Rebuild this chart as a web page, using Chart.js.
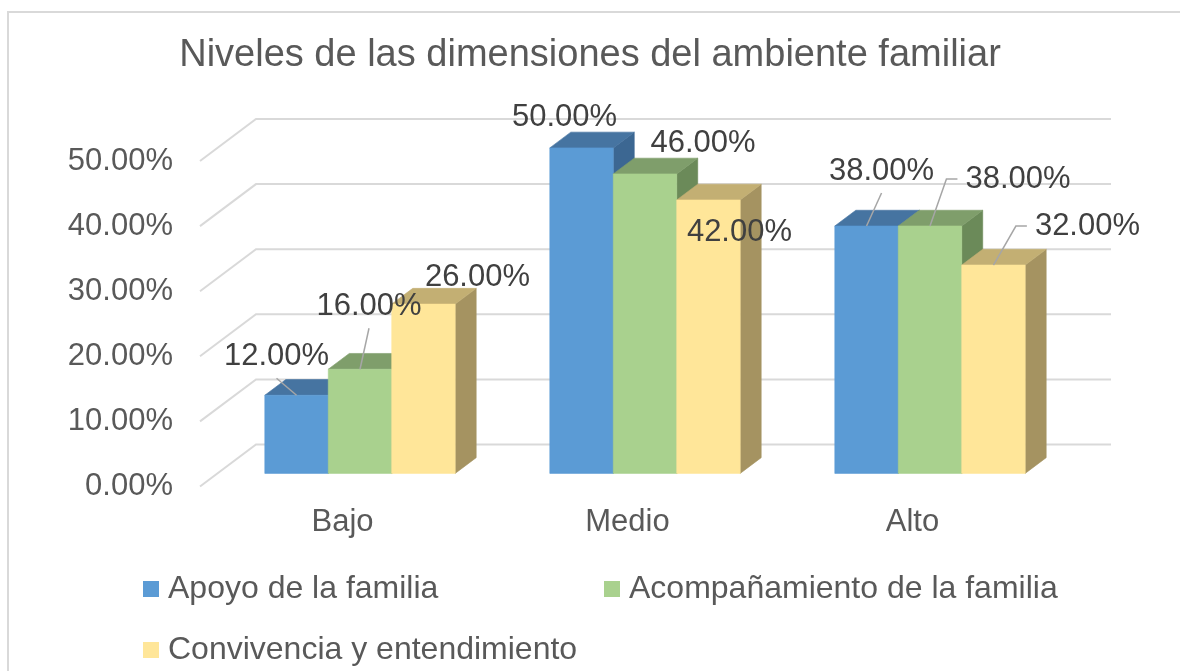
<!DOCTYPE html>
<html>
<head>
<meta charset="utf-8">
<title>Niveles de las dimensiones del ambiente familiar</title>
<script src="https://cdn.jsdelivr.net/npm/chart.js@4.4.1/dist/chart.umd.min.js"></script>
<style>
  html, body { margin: 0; padding: 0; background: #fff; }
  #wrap { position: relative; width: 1180px; height: 671px; }
</style>
</head>
<body>
<div id="wrap"><canvas id="chart"></canvas></div>
<script>
const categories = ["Bajo", "Medio", "Alto"];
const seriesNames = ["Apoyo de la familia", "Acompañamiento de la familia", "Convivencia y entendimiento"];
const apoyo = [12, 50, 38];
const acompanamiento = [16, 46, 38];
const convivencia = [26, 42, 32];
const yTicks = [0, 10, 20, 30, 40, 50];

// colores: cara frontal, superior y lateral de cada serie
const frontColors = ["#5B9BD5", "#A9D18E", "#FFE699"];
const topColors = ["#4674A1", "#7F9E6B", "#C3AF73"];
const sideColors = ["#3C6792", "#6B8A59", "#A59361"];

// desplazamiento de cada etiqueta respecto al borde superior de su barra
const labelOffsets = [
  [[-20, -39], [-17, -30], [15, -55]],
  [[9, -63], [58, -30], [88, -47]],
  [[54, -27], [31, 32], [94, -39]]
];
const leaderStyles = [
  ["below", null, "below"],
  ["below", null, "left"],
  [null, null, "left"]
];

const FONT = "'Liberation Sans', Arial, sans-serif";
const TEXT = "#595959";
const DEPTH = { x: 56, y: -42 };   // profundidad de las paredes
const BAR_FRONT = 0.3125;           // donde empieza la barra dentro de la profundidad
const BAR_DEPTH = 0.375;            // grosor de la barra

function poly(ctx, color, pts) {
  ctx.beginPath();
  ctx.moveTo(pts[0][0], pts[0][1]);
  for (let k = 1; k < pts.length; k++) ctx.lineTo(pts[k][0], pts[k][1]);
  ctx.closePath();
  ctx.fillStyle = color;
  ctx.fill();
  ctx.strokeStyle = color;
  ctx.lineWidth = 0.6;
  ctx.stroke();
}

// ===== barras 3D, paredes, etiquetas y leyenda =====
const excel3d = {
  id: "excel3d",
  beforeDraw(chart) {
    const ctx = chart.ctx;
    ctx.save();
    ctx.fillStyle = "#fff";
    ctx.fillRect(0, 0, chart.width, chart.height);
    ctx.strokeStyle = "#d9d9d9";
    ctx.lineWidth = 2;
    ctx.beginPath();
    ctx.moveTo(8, chart.height);
    ctx.lineTo(8, 12);
    ctx.lineTo(chart.width, 12);
    ctx.stroke();
    ctx.restore();
  },
  beforeDatasetsDraw(chart) {
    const ctx = chart.ctx;
    const area = chart.chartArea;
    const yScale = chart.scales.y;
    ctx.save();

    ctx.strokeStyle = "#d9d9d9";
    ctx.lineWidth = 2;
    yTicks.forEach(v => {
      const y = yScale.getPixelForValue(v);
      ctx.beginPath();
      ctx.moveTo(area.left, y);
      ctx.lineTo(area.left + DEPTH.x, y + DEPTH.y);
      ctx.lineTo(area.right + DEPTH.x, y + DEPTH.y);
      ctx.stroke();
    });

    const ox = DEPTH.x * BAR_FRONT, oy = DEPTH.y * BAR_FRONT;
    const bx = DEPTH.x * BAR_DEPTH, by = DEPTH.y * BAR_DEPTH;
    categories.forEach((c, i) => {
      chart.data.datasets.forEach((ds, d) => {
        const bar = chart.getDatasetMeta(d).data[i];
        const x0 = bar.x - bar.width / 2 + ox;
        const x1 = bar.x + bar.width / 2 + ox;
        const yt = bar.y + oy, yb = bar.base + oy;
        poly(ctx, sideColors[d], [[x1, yt], [x1 + bx, yt + by], [x1 + bx, yb + by], [x1, yb]]);
        poly(ctx, topColors[d], [[x0, yt], [x1, yt], [x1 + bx, yt + by], [x0 + bx, yt + by]]);
        poly(ctx, frontColors[d], [[x0, yt], [x1, yt], [x1, yb], [x0, yb]]);
      });
    });
    ctx.restore();
    return false;
  },
  afterDraw(chart) {
    const ctx = chart.ctx;
    const ox = DEPTH.x * BAR_FRONT, oy = DEPTH.y * BAR_FRONT;
    ctx.save();

    // etiquetas de datos
    ctx.font = "31px " + FONT;
    ctx.textAlign = "center";
    ctx.textBaseline = "middle";
    chart.data.datasets.forEach((ds, d) => {
      const meta = chart.getDatasetMeta(d);
      ds.data.forEach((v, i) => {
        const bar = meta.data[i];
        const ax = bar.x + ox, ay = bar.y + oy;
        const tx = ax + labelOffsets[d][i][0];
        const ty = ay + labelOffsets[d][i][1];
        const txt = v.toFixed(2) + "%";
        const style = leaderStyles[d][i];
        ctx.strokeStyle = "#a6a6a6";
        ctx.lineWidth = 1.5;
        if (style === "below") {
          ctx.beginPath();
          ctx.moveTo(ax, ay);
          ctx.lineTo(tx, ty + 22);
          ctx.stroke();
        } else if (style === "left") {
          const left = tx - ctx.measureText(txt).width / 2;
          ctx.beginPath();
          ctx.moveTo(ax, ay);
          ctx.lineTo(left - 19, ty);
          ctx.lineTo(left - 8, ty);
          ctx.stroke();
        }
        ctx.fillStyle = "#404040";
        ctx.fillText(txt, tx, ty);
      });
    });

    // leyenda
    const legendPos = [[143, 581], [604, 581], [143, 642]];
    ctx.font = "32px " + FONT;
    ctx.textAlign = "left";
    ctx.textBaseline = "alphabetic";
    chart.data.datasets.forEach((ds, d) => {
      const [lx, ly] = legendPos[d];
      ctx.fillStyle = ds.backgroundColor;
      ctx.fillRect(lx, ly, 16, 16);
      ctx.fillStyle = TEXT;
      ctx.fillText(ds.label, lx + 25, ly + 16.5);
    });
    ctx.restore();
  }
};

Chart.defaults.font.family = FONT;
Chart.defaults.color = TEXT;

new Chart(document.getElementById("chart"), {
  type: "bar",
  data: {
    labels: categories,
    datasets: [
      { label: seriesNames[0], data: apoyo, backgroundColor: frontColors[0] },
      { label: seriesNames[1], data: acompanamiento, backgroundColor: frontColors[1] },
      { label: seriesNames[2], data: convivencia, backgroundColor: frontColors[2] }
    ]
  },
  options: {
    responsive: true,
    maintainAspectRatio: false,
    animation: false,
    layout: { padding: 0 },
    datasets: {
      bar: { categoryPercentage: 0.668, barPercentage: 1 }
    },
    plugins: {
      legend: { display: false },
      tooltip: { enabled: false },
      title: {
        display: true,
        text: "Niveles de las dimensiones del ambiente familiar",
        color: TEXT,
        font: { size: 38, weight: "normal" },
        padding: { top: 33, bottom: 82.4 }
      }
    },
    scales: {
      x: {
        grid: { display: false, drawTicks: false },
        border: { display: false },
        ticks: { font: { size: 31 }, color: TEXT, padding: 17 },
        afterFit: scale => { scale.height = 184.5; }
      },
      y: {
        min: 0,
        max: 50,
        grid: { display: false, drawTicks: false },
        border: { display: false },
        ticks: {
          stepSize: 10,
          font: { size: 31 },
          color: TEXT,
          padding: 27,
          callback: v => v.toFixed(2) + "%"
        },
        afterFit: scale => { scale.width = 200; }
      },
      // eje vacío a la derecha: deja sitio para la profundidad de las paredes
      yRight: {
        position: "right",
        min: 0,
        max: 50,
        grid: { display: false, drawTicks: false },
        border: { display: false },
        ticks: { display: false },
        afterFit: scale => { scale.width = 125; }
      }
    }
  },
  plugins: [excel3d]
});
</script>
</body>
</html>
